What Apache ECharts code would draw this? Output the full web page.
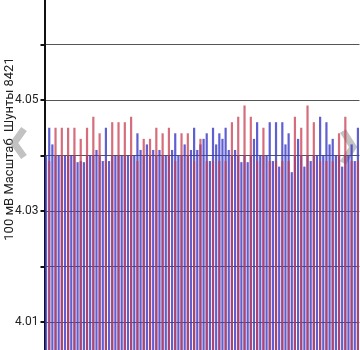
<!DOCTYPE html>
<html>
<head>
<meta charset="utf-8">
<script src="https://cdn.jsdelivr.net/npm/echarts@6/dist/echarts.min.js"></script>
<style>html,body{margin:0;padding:0;background:#fff;}#c{width:360px;height:350px;}</style>
</head>
<body>
<div id="c"></div>
<script>
var axisTitle = '100 мВ Масштаб  Шунты 8421';
var tickLabels = ['4.01', '4.03', '4.05'];
var categories = [];
for (var k = 1; k <= 100; k++) categories.push(String(k));
var blueValues = [
4.040,4.045,4.042,4.040,4.040,4.040,4.040,4.040,4.040,4.040,
4.0388,4.039,4.0388,4.040,4.040,4.040,4.041,4.040,4.039,4.045,
4.039,4.040,4.040,4.040,4.040,4.040,4.040,4.040,4.040,4.044,
4.041,4.040,4.042,4.040,4.041,4.040,4.041,4.040,4.040,4.040,
4.041,4.044,4.040,4.040,4.042,4.040,4.041,4.045,4.041,4.042,
4.043,4.044,4.039,4.045,4.042,4.044,4.043,4.045,4.041,4.040,
4.041,4.040,4.0388,4.040,4.0388,4.040,4.043,4.046,4.040,4.040,
4.040,4.046,4.039,4.046,4.038,4.046,4.042,4.044,4.037,4.040,
4.043,4.040,4.038,4.040,4.039,4.040,4.040,4.047,4.040,4.046,
4.042,4.043,4.040,4.040,4.038,4.040,4.040,4.042,4.039,4.045
];
// red values for the odd (2nd, 4th, ...) categories
var redValues = [
4.039,4.045,4.045,4.045,4.045,4.043,4.045,4.047,4.044,4.039,
4.046,4.046,4.046,4.047,4.039,4.043,4.043,4.045,4.044,4.045,
4.039,4.044,4.044,4.039,4.043,4.039,4.039,4.039,4.039,4.046,
4.047,4.049,4.047,4.039,4.045,4.039,4.039,4.039,4.039,4.047,
4.045,4.049,4.046,4.039,4.039,4.039,4.044,4.047,4.039,4.039
];
var redData = categories.map(function (c, i) { return i % 2 ? redValues[(i - 1) / 2] : '-'; });

var chart = echarts.init(document.getElementById('c'), null, {renderer: 'canvas'});
chart.setOption({
  animation: false,
  grid: {left: 44.5, right: 0.5, top: -11, bottom: -27.5, containLabel: false, outerBoundsMode: 'none'},
  xAxis: {
    type: 'category', data: categories,
    axisLine: {show: false}, axisTick: {show: false}, axisLabel: {show: false},
    splitLine: {show: false}
  },
  yAxis: {
    type: 'value', min: 4.0, max: 4.07, interval: 0.01,
    axisLine: {show: true, lineStyle: {color: '#111', width: 2}},
    axisTick: {show: true, length: 4, lineStyle: {color: '#111', width: 2}},
    axisLabel: {
      margin: 6, color: '#222', fontSize: 12, fontFamily: 'Roboto',
      formatter: function (v) {
        var s = v.toFixed(2);
        return tickLabels.indexOf(s) >= 0 && Math.abs(v - parseFloat(s)) < 1e-6 ? s : '';
      }
    },
    splitLine: {show: true, lineStyle: {color: '#555', width: 1}}
  },
  series: [
    {type: 'bar', name: 'blue', data: blueValues, barWidth: '70%', barGap: '-100%',
     itemStyle: {color: '#3c3cc8', opacity: 0.82}},
    {type: 'bar', name: 'red', data: redData, barWidth: '70%', barGap: '-100%',
     itemStyle: {color: '#c83c50', opacity: 0.75}}
  ],
  graphic: [
    {type: 'text', x: 10, y: 149, rotation: Math.PI / 2,
     style: {text: axisTitle, fill: '#222', font: '13px Roboto', align: 'center', verticalAlign: 'middle'}},
    {type: 'polyline', shape: {points: [[24, 129], [14, 143], [24, 157]]},
     style: {stroke: '#9a9a9a', lineWidth: 7, fill: null, opacity: 0.6}},
    {type: 'polyline', shape: {points: [[343, 131], [353, 147], [343, 163]]},
     style: {stroke: '#9a9a9a', lineWidth: 7, fill: null, opacity: 0.6}}
  ]
});
</script>
</body>
</html>
